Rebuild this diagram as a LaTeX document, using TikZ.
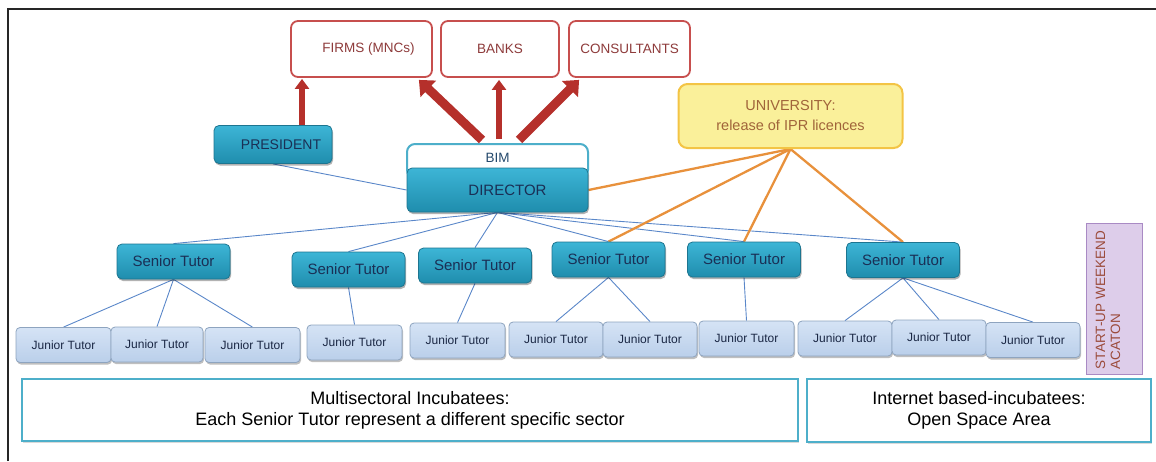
\documentclass[tikz,border=0pt]{standalone}
\usepackage{fontspec}
\setmainfont{Liberation Sans}
\usetikzlibrary{arrows.meta,shadows,calc}
\pgfdeclarelayer{background}
\pgfsetlayers{background,main}

\definecolor{arrowred}{HTML}{B5302B}
\definecolor{rededge}{HTML}{C74F4E}
\definecolor{redtext}{HTML}{8E3B3B}
\definecolor{univfill}{HTML}{FAF09A}
\definecolor{univedge}{HTML}{F3C445}
\definecolor{univtext}{HTML}{A0643A}
\definecolor{orangeline}{HTML}{E8913C}
\definecolor{blueline}{HTML}{5A87C9}
\definecolor{tealtop}{HTML}{3DB5D6}
\definecolor{tealbot}{HTML}{1F8DAD}
\definecolor{tealedge}{HTML}{1D7590}
\definecolor{navytext}{HTML}{1A2F55}
\definecolor{jttop}{HTML}{D5E3F5}
\definecolor{jtbot}{HTML}{BACFEA}
\definecolor{jtedge}{HTML}{8EA4BF}
\definecolor{jttext}{HTML}{1A2744}
\definecolor{cyanedge}{HTML}{4DAFCA}
\definecolor{startfill}{HTML}{DDCDEA}
\definecolor{startedge}{HTML}{A98AC4}
\definecolor{starttext}{HTML}{9B4B3B}

\begin{document}
\begin{tikzpicture}[x=1pt,y=-1pt,
  partner/.style={draw=rededge, line width=1.8pt, fill=white, rounded corners=7pt,
    text=redtext, font=\fontsize{13.5}{16}\selectfont, inner sep=0pt},
  tealbox/.style={draw=tealedge, line width=0.8pt, rounded corners=5pt,
    top color=tealtop, bottom color=tealbot, text=navytext, inner sep=0pt,
    drop shadow={shadow xshift=1pt, shadow yshift=-2pt, fill=black, opacity=0.3}},
  senior/.style={tealbox, minimum width=113pt, minimum height=35pt,
    font=\fontsize{15}{18}\selectfont},
  junior/.style={draw=jtedge, line width=0.8pt, rounded corners=4pt,
    top color=jttop, bottom color=jtbot, text=jttext, inner sep=0pt,
    minimum width=94pt, minimum height=35pt, font=\fontsize{12}{14}\selectfont,
    drop shadow={shadow xshift=1pt, shadow yshift=-2pt, fill=black, opacity=0.25}},
  sector/.style={draw=cyanedge, line width=2.5pt, fill=white, inner sep=0pt,
    align=center, font=\fontsize{18}{21}\selectfont,
    drop shadow={shadow xshift=1pt, shadow yshift=-1.5pt, fill=black, opacity=0.15}},
  tie/.style={draw=blueline, line width=0.9pt},
  licence/.style={draw=orangeline, line width=2.3pt},
  bigarrow/.style={draw=arrowred, line width=9pt, -{Triangle[width=22pt,length=13pt]}},
  smallarrow/.style={draw=arrowred, line width=6.5pt, -{Triangle[width=14pt,length=10pt]}}
]
\useasboundingbox (0,0) rectangle (1156,461);

% page frame (top and left edges)
\draw[line width=1.6pt, black!85] (8,461) -- (8,9) -- (1156,9);

% outside partners
\node[partner, minimum width=141pt, minimum height=56pt] (firms) at (361.5,49) {\hspace*{14pt}FIRMS (MNCs)};
\node[partner, minimum width=118pt, minimum height=56pt] (banks) at (500,49) {BANKS};
\node[partner, minimum width=121pt, minimum height=56pt] (consult) at (629.5,49) {CONSULTANTS};

% management
\node[tealbox, minimum width=118pt, minimum height=38pt, font=\fontsize{14}{17}\selectfont]
  (president) at (273,144.5) {\hspace*{16pt}PRESIDENT};
\node[draw=cyanedge, line width=2pt, fill=white, rounded corners=8pt, inner sep=0pt,
  minimum width=181pt, minimum height=34pt, text=navytext!80!cyanedge,
  font=\fontsize{13.5}{16}\selectfont] (bim) at (497.5,161) {\raisebox{7pt}{BIM}};
\node[tealbox, minimum width=181pt, minimum height=44pt, font=\fontsize{15}{18}\selectfont]
  (director) at (497.5,190) {\hspace*{20pt}DIRECTOR};

% university
\node[draw=univedge, line width=2pt, fill=univfill, rounded corners=9pt, inner sep=0pt,
  minimum width=224pt, minimum height=64pt, text=univtext, align=center,
  font=\fontsize{14.5}{20}\selectfont] (univ) at (790.5,116)
  {UNIVERSITY:\\release of IPR licences};

% senior tutors
\node[senior] (st1) at (173.5,261.5) {Senior Tutor};
\node[senior] (st2) at (348.5,269.5) {Senior Tutor};
\node[senior] (st3) at (475,265.5) {Senior Tutor};
\node[senior] (st4) at (608.5,259.5) {Senior Tutor};
\node[senior] (st5) at (744,259.5) {Senior Tutor};
\node[senior] (st6) at (903,260) {Senior Tutor};

% junior tutors
\node[junior, minimum width=95pt] (jt1) at (63.5,345) {Junior Tutor};
\node[junior, minimum width=92pt] (jt2) at (157,344.5) {Junior Tutor};
\node[junior, minimum width=95pt] (jt3) at (252.5,345) {Junior Tutor};
\node[junior, minimum width=95pt] (jt4) at (354.5,342.5) {Junior Tutor};
\node[junior, minimum width=95pt] (jt5) at (457.5,340.5) {Junior Tutor};
\node[junior] (jt6) at (556,339.5) {Junior Tutor};
\node[junior] (jt7) at (650,339.5) {Junior Tutor};
\node[junior, minimum width=95pt] (jt8) at (746.5,338.5) {Junior Tutor};
\node[junior] (jt9) at (845,338.5) {Junior Tutor};
\node[junior] (jt10) at (939,337.5) {Junior Tutor};
\node[junior] (jt11) at (1033,340) {Junior Tutor};

% start-up weekend
\node[draw=startedge, line width=1pt, fill=startfill, inner sep=0pt,
  minimum width=56pt, minimum height=151pt] (startup) at (1114,298.5) {};
\node[rotate=90, text=starttext, align=left, text width=141pt, inner sep=0pt,
  font=\fontsize{13.5}{15}\selectfont] (startuptext) at ([xshift=-6pt]startup.center)
  {START-UP WEEKEND\\ACATON};

% incubatee areas
\node[sector, minimum width=776pt, minimum height=62pt] (multi) at (410,410)
  {Multisectoral Incubatees:\\Each Senior Tutor represent a different specific sector};
\node[sector, minimum width=344pt, minimum height=63pt] (internet) at (979,410.5)
  {Internet based-incubatees:\\Open Space Area};

% connectors
\begin{pgfonlayer}{background}
  \draw[tie] (president.south) -- (director.west);
  \foreach \s in {st1,st2,st3,st4,st5,st6}
    \draw[tie] (director.south) -- (\s.north);
  \foreach \j in {jt1,jt2,jt3} \draw[tie] (st1.south) -- (\j.north);
  \draw[tie] (st2.south) -- (jt4.north);
  \draw[tie] (st3.south) -- (jt5.north);
  \foreach \j in {jt6,jt7} \draw[tie] (st4.south) -- (\j.north);
  \draw[tie] (st5.south) -- (jt8.north);
  \foreach \j in {jt9,jt10,jt11} \draw[tie] (st6.south) -- (\j.north);

  \draw[licence] (univ.south) -- (director.east);
  \foreach \s in {st4,st5,st6}
    \draw[licence] (univ.south) -- (\s.north);
\end{pgfonlayer}

% funding and consulting flows
\draw[smallarrow] ($(president.north)+(29,0)$) -- ($(firms.south)+(-59.5,1)$);
\draw[bigarrow] ($(bim.north)+(-15.5,-3)$) -- ($(firms.south east)+(-14,2)$);
\draw[smallarrow] ($(bim.north)+(1.5,-4)$) -- ($(banks.south)+(-1,2)$);
\draw[bigarrow] ($(bim.north)+(21.5,-3)$) -- ($(consult.south west)+(11,2)$);
\end{tikzpicture}
\end{document}
